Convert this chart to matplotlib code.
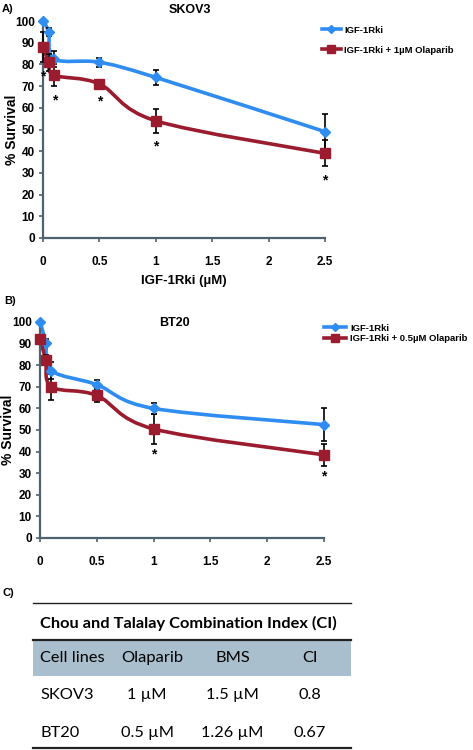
import numpy as np
import matplotlib
matplotlib.use("Agg")
import matplotlib.pyplot as plt
from matplotlib.path import Path
from matplotlib.patches import PathPatch, Rectangle

# dose of IGF-1Rki (uM)
dose = [0, 0.05, 0.1, 0.5, 1, 2.5]

# panel A - SKOV3
skov_igf = [100, 95, 82.5, 81, 74, 49]
skov_igf_err = [0, 2, 3.5, 2, 3.5, 8]
skov_comb = [88, 81, 75, 71, 54, 39]
skov_comb_err = [7, 4, 5, 1.5, 5.5, 6]
skov_sig = [1, 0, 1, 1, 1, 1]

# panel B - BT20
bt_igf = [100, 90.5, 77.5, 71, 60, 52.5]
bt_igf_err = [0, 1.5, 4, 2, 2.5, 7.5]
bt_comb = [92, 82.5, 70, 66, 50.5, 38.5]
bt_comb_err = [1, 2, 6, 3, 7, 5]
bt_sig = [0, 0, 0, 0, 1, 1]

# panel C - table
tbl_title = "Chou and Talalay Combination Index (CI)"
tbl_header = ["Cell lines", "Olaparib", "BMS", "CI"]
tbl_rows = [["SKOV3", "1 \u00b5M", "1.5 \u00b5M", "0.8"],
            ["BT20", "0.5 \u00b5M", "1.26 \u00b5M", "0.67"]]

BLUE = '#2f8cf0'
RED = '#9a1c2e'
SPINE = '#4d6470'
BOLD = dict(family='Liberation Sans', fontweight='bold')


def smooth_path(x, y):
    # excel-style smoothed line (bezier through every point)
    pts = np.column_stack([x, y]).astype(float)
    n = len(pts)
    verts = [pts[0]]
    codes = [Path.MOVETO]
    for i in range(n - 1):
        p0 = pts[i - 1] if i > 0 else pts[i]
        p1 = pts[i]
        p2 = pts[i + 1]
        p3 = pts[i + 2] if i + 2 < n else pts[i + 1]
        c1 = p1 + (p2 - p0) / 6.0
        c2 = p2 - (p3 - p1) / 6.0
        verts += [c1, c2, p2]
        codes += [Path.CURVE4] * 3
    return Path(verts, codes)


def draw_panel(ax, y1, e1, y2, e2, sig, lab2, star_off):
    for y, e, c, m, ms in [(y1, e1, BLUE, 'D', 5.5), (y2, e2, RED, 's', 7)]:
        ax.add_patch(PathPatch(smooth_path(dose, y), facecolor='none',
                               edgecolor=c, lw=2.6, zorder=2, clip_on=False))
        ax.errorbar(dose, y, yerr=e, fmt='none', ecolor='black', elinewidth=1.2,
                    capsize=2.5, capthick=1.2, zorder=3, clip_on=False)
        ax.plot(dose, y, ls='none', marker=m, ms=ms, color=c, zorder=4, clip_on=False)
    for xi, yi, ei, s in zip(dose, y2, e2, sig):
        if s:
            ax.text(xi, yi - ei - star_off, '*', ha='center', va='center',
                    fontsize=10, **BOLD)
    ax.set_xlim(0, 2.5)
    ax.set_ylim(0, 100)
    ax.set_yticks(range(0, 101, 10))
    ax.set_xticks([0, 0.5, 1, 1.5, 2, 2.5])
    ax.set_xticklabels(['0', '0.5', '1', '1.5', '2', '2.5'])
    for s in ['top', 'right']:
        ax.spines[s].set_visible(False)
    for s in ['left', 'bottom']:
        ax.spines[s].set_color(SPINE)
        ax.spines[s].set_linewidth(1.6)
    ax.tick_params(axis='both', direction='out', length=3, width=1.2, color=SPINE,
                   labelsize=8.5)
    ax.tick_params(axis='x', pad=10)
    ax.tick_params(axis='y', pad=3)
    for t in ax.get_xticklabels() + ax.get_yticklabels():
        t.set_fontweight('bold')
        t.set_family('Liberation Sans')
    ax.set_ylabel('% Survival', fontsize=10, **BOLD)
    # legend handles
    h1, = ax.plot([], [], color=BLUE, lw=2.6, marker='D', ms=4.5)
    h2, = ax.plot([], [], color=RED, lw=2.6, marker='s', ms=5.5)
    return [h1, h2], ['IGF-1Rki', lab2]


fig = plt.figure(figsize=(4.73, 7.5), dpi=100)

axA = fig.add_axes([43 / 473, 1 - 238 / 750, 282 / 473, 217 / 750])
hA, lA = draw_panel(axA, skov_igf, skov_igf_err, skov_comb, skov_comb_err, skov_sig,
                    'IGF-1Rki + 1\u00b5M Olaparib', 6.5)
axA.set_title('SKOV3', fontsize=9, pad=6, x=0.52, **BOLD)
axA.set_xlabel('IGF-1Rki (\u00b5M)', fontsize=9.5, labelpad=5, **BOLD)
axA.yaxis.set_label_coords((19 - 43) / 282, 0.5)
axA.legend(hA, lA, loc='upper left', bbox_to_anchor=(318 / 473, 1 - 22 / 750),
           bbox_transform=fig.transFigure, frameon=False, handlelength=2.0,
           handletextpad=0.4, labelspacing=1.15, borderaxespad=0,
           prop=dict(family='Liberation Sans', weight='bold', size=6.8))

axB = fig.add_axes([40 / 473, 1 - 538 / 750, 284 / 473, 216 / 750])
hB, lB = draw_panel(axB, bt_igf, bt_igf_err, bt_comb, bt_comb_err, bt_sig,
                    'IGF-1Rki + 0.5\u00b5M Olaparib', 5)
axB.text(0.475, 0.995, 'BT20', transform=axB.transAxes, ha='center', va='center',
         fontsize=9, **BOLD)
axB.yaxis.set_label_coords((15 - 40) / 284, 0.5)
axB.legend(hB, lB, loc='upper left', bbox_to_anchor=(320 / 473, 1 - 320 / 750),
           bbox_transform=fig.transFigure, frameon=False, handlelength=2.4,
           handletextpad=0.4, labelspacing=0.15, borderaxespad=0,
           prop=dict(family='Liberation Sans', weight='bold', size=6.8))

fig.text(2 / 473, 1 - 9 / 750, 'A)', fontsize=8, va='center', **BOLD)
fig.text(4 / 473, 1 - 301 / 750, 'B)', fontsize=8, va='center', **BOLD)
fig.text(2 / 473, 1 - 593 / 750, 'C)', fontsize=8, va='center', **BOLD)

# table panel drawn in pixel space
axT = fig.add_axes([0, 0, 1, 1], zorder=-1)
axT.set_xlim(0, 473)
axT.set_ylim(750, 0)
axT.axis('off')
TF = dict(family='Lato', fontsize=11.8, va='center')
axT.add_patch(Rectangle((33, 641), 318, 35, facecolor='#a9bfcd', edgecolor='none'))
axT.plot([33, 351], [603, 603], color='#222222', lw=1.0)
axT.plot([33, 351], [640, 640], color='#222222', lw=1.6)
axT.plot([33, 351], [748, 748], color='#222222', lw=1.6)
axT.text(40, 623, tbl_title, fontweight='bold', **TF)
col_ha = ['left', 'center', 'center', 'center']
for x, ha, s in zip([40, 152, 233, 310], col_ha, tbl_header):
    axT.text(x, 658, s, ha=ha, **TF)
for ry, row in zip([695, 733], tbl_rows):
    for x, ha, s in zip([40, 147, 232, 310], col_ha, row):
        axT.text(x, ry, s, ha=ha, **TF)

fig.savefig('out.png', dpi=100)
